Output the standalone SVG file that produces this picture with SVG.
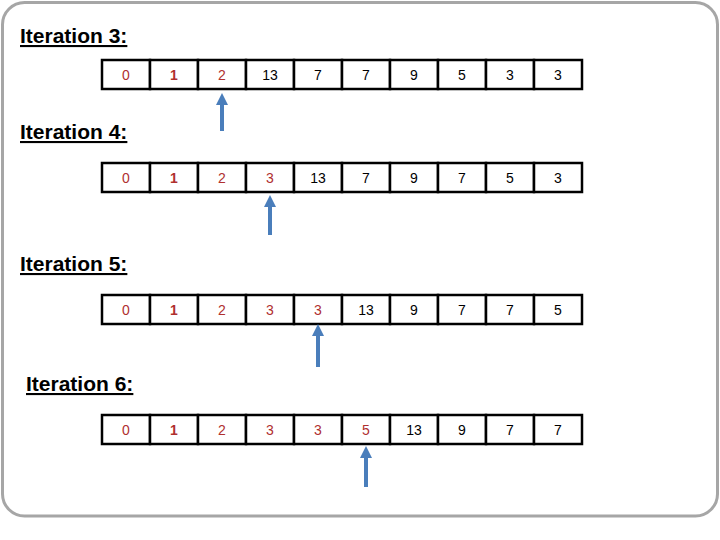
<svg xmlns="http://www.w3.org/2000/svg" width="720" height="540" viewBox="0 0 720 540">
<style>
.frame{fill:#fff;stroke:#a6a6a6;stroke-width:3}
.title{font-family:"Liberation Sans",Arial,sans-serif;font-weight:bold;font-size:21px;fill:#000;text-decoration:underline}
.cell{fill:#fff;stroke:#000;stroke-width:2.5}
.n{font-family:"Liberation Sans",Arial,sans-serif;font-size:14px;fill:#000;text-anchor:middle}
.r{fill:#b0302f}
.b{font-weight:bold}
.arr{stroke:#4a7ebb;stroke-width:4;fill:none}
</style>
<defs>
<marker id="ah" markerWidth="3" markerHeight="3" refX="1.5" refY="1.5" orient="auto" markerUnits="strokeWidth">
<path d="M0,0 L3,1.5 L0,3 z" fill="#4a7ebb"/>
</marker>
<g id="cells">
<rect class="cell" x="102" y="0" width="48" height="29"/>
<rect class="cell" x="150" y="0" width="48" height="29"/>
<rect class="cell" x="198" y="0" width="48" height="29"/>
<rect class="cell" x="246" y="0" width="48" height="29"/>
<rect class="cell" x="294" y="0" width="48" height="29"/>
<rect class="cell" x="342" y="0" width="48" height="29"/>
<rect class="cell" x="390" y="0" width="48" height="29"/>
<rect class="cell" x="438" y="0" width="48" height="29"/>
<rect class="cell" x="486" y="0" width="48" height="29"/>
<rect class="cell" x="534" y="0" width="48" height="29"/>
</g>
</defs>
<rect class="frame" x="2.5" y="2.5" width="715" height="513.5" rx="22" ry="22"/>

<g id="iter3">
<text class="title" x="20" y="43">Iteration 3:</text>
<use href="#cells" y="60"/>
<g transform="translate(0,80)">
<text class="n r" x="126">0</text><text class="n r b" x="174">1</text><text class="n r" x="222">2</text>
<text class="n" x="270">13</text><text class="n" x="318">7</text><text class="n" x="366">7</text>
<text class="n" x="414">9</text><text class="n" x="462">5</text><text class="n" x="510">3</text><text class="n" x="558">3</text>
</g>
</g>

<g id="iter4">
<text class="title" x="20" y="139">Iteration 4:</text>
<use href="#cells" y="163"/>
<g transform="translate(0,183)">
<text class="n r" x="126">0</text><text class="n r b" x="174">1</text><text class="n r" x="222">2</text>
<text class="n r" x="270">3</text><text class="n" x="318">13</text><text class="n" x="366">7</text>
<text class="n" x="414">9</text><text class="n" x="462">7</text><text class="n" x="510">5</text><text class="n" x="558">3</text>
</g>
</g>

<g id="iter5">
<text class="title" x="20" y="271">Iteration 5:</text>
<use href="#cells" y="295"/>
<g transform="translate(0,315)">
<text class="n r" x="126">0</text><text class="n r b" x="174">1</text><text class="n r" x="222">2</text>
<text class="n r" x="270">3</text><text class="n r" x="318">3</text><text class="n" x="366">13</text>
<text class="n" x="414">9</text><text class="n" x="462">7</text><text class="n" x="510">7</text><text class="n" x="558">5</text>
</g>
</g>

<g id="iter6">
<text class="title" x="26" y="391">Iteration 6:</text>
<use href="#cells" y="415"/>
<g transform="translate(0,435)">
<text class="n r" x="126">0</text><text class="n r b" x="174">1</text><text class="n r" x="222">2</text>
<text class="n r" x="270">3</text><text class="n r" x="318">3</text><text class="n r" x="366">5</text>
<text class="n" x="414">13</text><text class="n" x="462">9</text><text class="n" x="510">7</text><text class="n" x="558">7</text>
</g>
</g>

<g id="connectors">
<line class="arr" x1="222" y1="131" x2="222" y2="99" marker-end="url(#ah)"/>
<line class="arr" x1="270" y1="235" x2="270" y2="201" marker-end="url(#ah)"/>
<line class="arr" x1="318" y1="367" x2="318" y2="330" marker-end="url(#ah)"/>
<line class="arr" x1="366" y1="487" x2="366" y2="452" marker-end="url(#ah)"/>
</g>
</svg>
